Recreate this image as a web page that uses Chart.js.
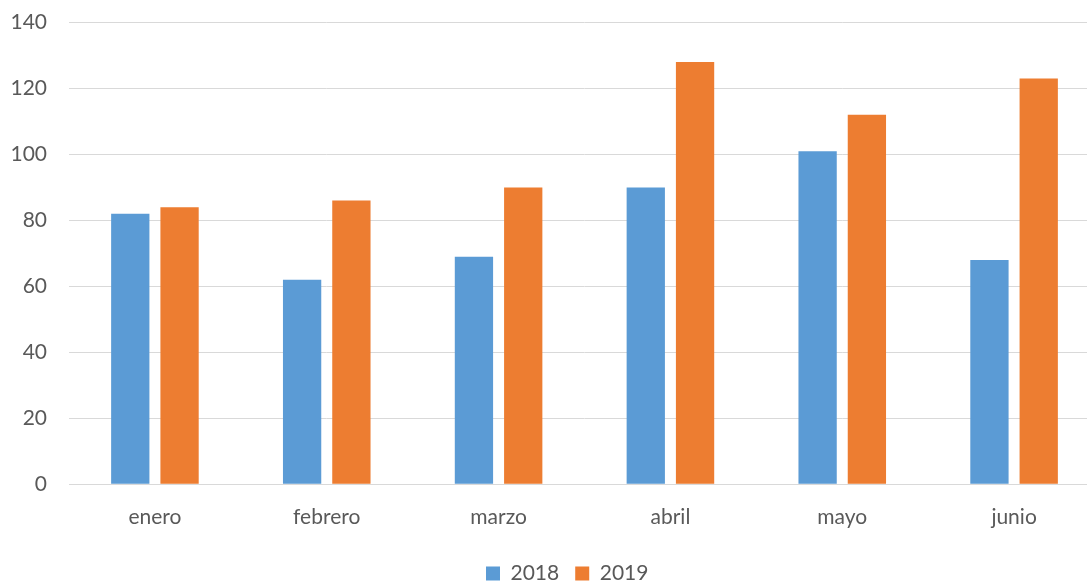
<!DOCTYPE html>
<html>
<head>
<meta charset="utf-8">
<script src="https://cdn.jsdelivr.net/npm/chart.js@4/dist/chart.umd.min.js"></script>
<style>
html,body{margin:0;padding:0;background:#fff;overflow:hidden;width:1087px;height:581px;}
#wrap{width:1100px;height:581px;position:relative;}
</style>
</head>
<body>
<div id="wrap"><canvas id="c"></canvas></div>
<script>
const categories = ["enero", "febrero", "marzo", "abril", "mayo", "junio"];
const values2018 = [82, 62, 69, 90, 101, 68];
const values2019 = [84, 86, 90, 128, 112, 123];
const seriesNames = ["2018", "2019"];
const yTicks = [0, 20, 40, 60, 80, 100, 120, 140];

const FONT = "Lato, 'Liberation Sans', sans-serif";

// place the legend block like the reference (below the plot, slightly right of centre)
const legendPlace = {
  id: 'legendPlace',
  afterLayout(chart) {
    const lg = chart.legend;
    if (!lg) return;
    const pad = lg.options.labels.padding;
    const startX = (lg.left + pad + lg.right - lg.lineWidths[0]) / 2;
    const dx = 486 - startX;
    lg.left += dx; lg.right += dx;
    lg.top += 13; lg.bottom += 13;
  }
};

new Chart(document.getElementById('c'), {
  type: 'bar',
  data: {
    labels: categories,
    datasets: [
      { label: seriesNames[0], data: values2018, backgroundColor: '#5B9BD5', borderWidth: 0 },
      { label: seriesNames[1], data: values2019, backgroundColor: '#ED7D31', borderWidth: 0 }
    ]
  },
  plugins: [legendPlace],
  options: {
    responsive: true,
    maintainAspectRatio: false,
    animation: false,
    layout: { padding: { top: 22.5, right: 0, bottom: 0, left: 0 } },
    datasets: { bar: { categoryPercentage: 0.5736, barPercentage: 0.777 } },
    plugins: {
      tooltip: { enabled: false },
      legend: {
        position: 'bottom',
        labels: {
          color: '#595959',
          font: { family: FONT, size: 21 },
          boxWidth: 14, boxHeight: 14, padding: 16
        }
      }
    },
    scales: {
      x: {
        grid: { display: false, drawTicks: false },
        border: { display: true, color: '#d9d9d9', width: 1 },
        ticks: { color: '#595959', font: { family: FONT, size: 21 }, padding: 20 },
        afterFit: (s) => { s.height = 49.7; s.paddingLeft = 0; s.paddingRight = 0; }
      },
      y: {
        min: 0, max: 140,
        afterBuildTicks: (s) => { s.ticks = yTicks.map(v => ({ value: v })); },
        grid: { color: '#d9d9d9', lineWidth: 1, drawTicks: false },
        border: { display: false },
        ticks: { color: '#595959', font: { family: FONT, size: 21 }, padding: 22 },
        afterFit: (s) => { s.width = 69; s.paddingTop = 0; s.paddingBottom = 0; }
      }
    }
  }
});
</script>
</body>
</html>
